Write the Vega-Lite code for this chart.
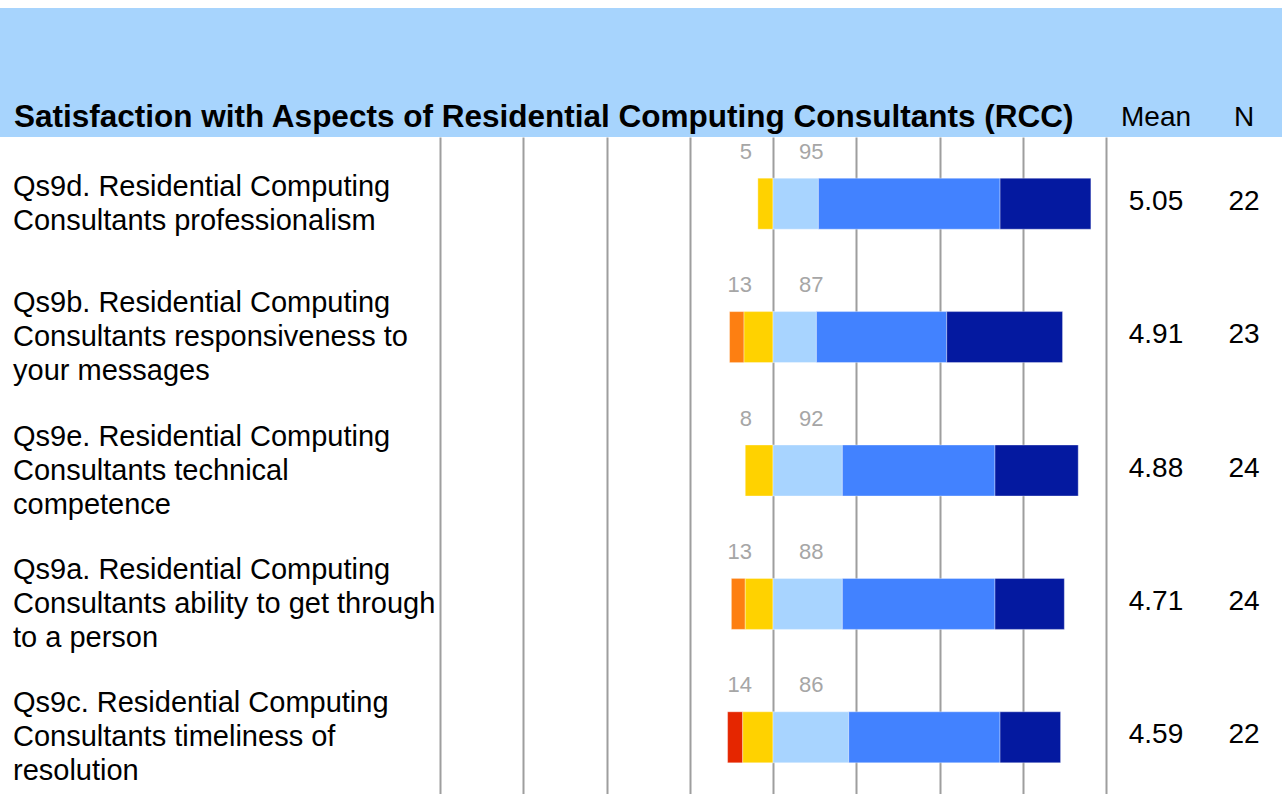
{
  "$schema": "https://vega.github.io/schema/vega-lite/v6.json",
  "background": "white",
  "padding": {"top": 8, "left": 0, "right": 0, "bottom": 0},
  "config": {
    "font": "Liberation Sans",
    "view": {"stroke": null},
    "title": {"color": "black", "fontWeight": "normal", "fontSize": 28, "baseline": "alphabetic", "offset": 5, "frame": "group"},
    "axisX": {"grid": false, "labels": false, "ticks": true, "tickSize": -657, "tickColor": "#9e9e9e", "tickWidth": 2, "domain": false, "zindex": 0}
  },
  "datasets": {
    "questions": [
      {"q": "Qs9d", "label": ["Qs9d. Residential Computing", "Consultants professionalism"], "mean": 5.05, "n": 22, "neg": 5, "pos": 95},
      {"q": "Qs9b", "label": ["Qs9b. Residential Computing", "Consultants responsiveness to", "your messages"], "mean": 4.91, "n": 23, "neg": 13, "pos": 87},
      {"q": "Qs9e", "label": ["Qs9e. Residential Computing", "Consultants technical", "competence"], "mean": 4.88, "n": 24, "neg": 8, "pos": 92},
      {"q": "Qs9a", "label": ["Qs9a. Residential Computing", "Consultants ability to get through", "to a person"], "mean": 4.71, "n": 24, "neg": 13, "pos": 88},
      {"q": "Qs9c", "label": ["Qs9c. Residential Computing", "Consultants timeliness of", "resolution"], "mean": 4.59, "n": 22, "neg": 14, "pos": 86}
    ],
    "segments": [
      {"q": "Qs9d", "lvl": 3, "level": "Somewhat dissatisfied", "pct": -4.55},
      {"q": "Qs9d", "lvl": 4, "level": "Somewhat satisfied", "pct": 13.64},
      {"q": "Qs9d", "lvl": 5, "level": "Satisfied", "pct": 54.55},
      {"q": "Qs9d", "lvl": 6, "level": "Very satisfied", "pct": 27.27},
      {"q": "Qs9b", "lvl": 2, "level": "Dissatisfied", "pct": -4.35},
      {"q": "Qs9b", "lvl": 3, "level": "Somewhat dissatisfied", "pct": -8.7},
      {"q": "Qs9b", "lvl": 4, "level": "Somewhat satisfied", "pct": 13.04},
      {"q": "Qs9b", "lvl": 5, "level": "Satisfied", "pct": 39.13},
      {"q": "Qs9b", "lvl": 6, "level": "Very satisfied", "pct": 34.78},
      {"q": "Qs9e", "lvl": 3, "level": "Somewhat dissatisfied", "pct": -8.33},
      {"q": "Qs9e", "lvl": 4, "level": "Somewhat satisfied", "pct": 20.83},
      {"q": "Qs9e", "lvl": 5, "level": "Satisfied", "pct": 45.83},
      {"q": "Qs9e", "lvl": 6, "level": "Very satisfied", "pct": 25.0},
      {"q": "Qs9a", "lvl": 2, "level": "Dissatisfied", "pct": -4.17},
      {"q": "Qs9a", "lvl": 3, "level": "Somewhat dissatisfied", "pct": -8.33},
      {"q": "Qs9a", "lvl": 4, "level": "Somewhat satisfied", "pct": 20.83},
      {"q": "Qs9a", "lvl": 5, "level": "Satisfied", "pct": 45.83},
      {"q": "Qs9a", "lvl": 6, "level": "Very satisfied", "pct": 20.83},
      {"q": "Qs9c", "lvl": 1, "level": "Very dissatisfied", "pct": -4.55},
      {"q": "Qs9c", "lvl": 3, "level": "Somewhat dissatisfied", "pct": -9.09},
      {"q": "Qs9c", "lvl": 4, "level": "Somewhat satisfied", "pct": 22.73},
      {"q": "Qs9c", "lvl": 5, "level": "Satisfied", "pct": 45.45},
      {"q": "Qs9c", "lvl": 6, "level": "Very satisfied", "pct": 18.18}
    ]
  },
  "spacing": 0,
  "bounds": "flush",
  "vconcat": [
    {
      "width": 1282,
      "height": 129,
      "view": {"fill": "#a7d4fd", "stroke": null},
      "data": {"values": []},
      "mark": "text"
    },
    {
      "spacing": 0,
      "bounds": "flush",
      "hconcat": [
        {
          "width": 440,
          "height": 657,
          "data": {"name": "questions"},
          "title": {"text": "Satisfaction with Aspects of Residential Computing Consultants (RCC)", "anchor": "start", "dx": 14, "fontSize": 31.5, "fontWeight": "bold", "limit": 1250, "offset": 4},
          "mark": {"type": "text", "align": "left", "baseline": "middle", "fontSize": 29, "lineHeight": 34, "dx": 13, "dy": {"expr": "-17 * (length(datum.label) - 1)"}, "color": "black"},
          "encoding": {
            "y": {"field": "q", "type": "nominal", "sort": ["Qs9d", "Qs9b", "Qs9e", "Qs9a", "Qs9c"], "axis": null, "scale": {"paddingInner": 0, "paddingOuter": 0, "range": [0, 667]}},
            "x": {"datum": 0, "type": "quantitative", "scale": {"domain": [0, 1]}, "axis": null},
            "text": {"field": "label", "type": "nominal"}
          }
        },
        {
          "width": 666,
          "height": 657,
          "encoding": {
            "y": {"field": "q", "type": "nominal", "sort": ["Qs9d", "Qs9b", "Qs9e", "Qs9a", "Qs9c"], "axis": null, "scale": {"paddingInner": 0, "paddingOuter": 0, "range": [0, 667]}}
          },
          "layer": [
            {
              "data": {"name": "segments"},
              "transform": [{"filter": "datum.pct < 0"}],
              "mark": {"type": "bar", "size": 51, "stroke": "white", "strokeWidth": 1, "strokeOpacity": 0.35},
              "encoding": {
                "x": {"field": "pct", "type": "quantitative", "stack": "zero", "title": null, "scale": {"domain": [-100, 100], "nice": false}, "axis": {"values": [-100, -75, -50, -25, 0, 25, 50, 75, 100], "title": null}},
                "color": {"field": "level", "type": "nominal", "legend": null, "scale": {"domain": ["Very dissatisfied", "Dissatisfied", "Somewhat dissatisfied", "Somewhat satisfied", "Satisfied", "Very satisfied"], "range": ["#e52600", "#fd7f12", "#ffd200", "#a8d4ff", "#4282ff", "#0419a0"]}},
                "order": {"field": "lvl", "type": "quantitative", "sort": "descending"}
              }
            },
            {
              "data": {"name": "segments"},
              "transform": [{"filter": "datum.pct > 0"}],
              "mark": {"type": "bar", "size": 51, "stroke": "white", "strokeWidth": 1, "strokeOpacity": 0.35},
              "encoding": {
                "x": {"field": "pct", "type": "quantitative", "stack": "zero", "title": null, "axis": {"values": [-100, -75, -50, -25, 0, 25, 50, 75, 100], "title": null}},
                "color": {"field": "level", "type": "nominal", "legend": null},
                "order": {"field": "lvl", "type": "quantitative", "sort": "ascending"}
              }
            },
            {
              "data": {"name": "questions"},
              "mark": {"type": "text", "align": "right", "baseline": "alphabetic", "dy": -45, "dx": -21, "fontSize": 22, "color": "#a6a6a6"},
              "encoding": {
                "x": {"datum": 0, "type": "quantitative", "axis": {"values": [-100, -75, -50, -25, 0, 25, 50, 75, 100], "title": null}},
                "text": {"field": "neg", "type": "quantitative"}
              }
            },
            {
              "data": {"name": "questions"},
              "mark": {"type": "text", "align": "left", "baseline": "alphabetic", "dy": -45, "dx": 26, "fontSize": 22, "color": "#a6a6a6"},
              "encoding": {
                "x": {"datum": 0, "type": "quantitative", "axis": {"values": [-100, -75, -50, -25, 0, 25, 50, 75, 100], "title": null}},
                "text": {"field": "pos", "type": "quantitative"}
              }
            }
          ]
        },
        {
          "width": 100,
          "height": 657,
          "data": {"name": "questions"},
          "title": {"text": "Mean", "anchor": "middle"},
          "mark": {"type": "text", "fontSize": 28, "baseline": "middle", "color": "black", "dy": -2},
          "encoding": {
            "y": {"field": "q", "type": "nominal", "sort": ["Qs9d", "Qs9b", "Qs9e", "Qs9a", "Qs9c"], "axis": null, "scale": {"paddingInner": 0, "paddingOuter": 0, "range": [0, 667]}},
            "text": {"field": "mean", "type": "quantitative", "format": ".2f"}
          }
        },
        {
          "width": 76,
          "height": 657,
          "data": {"name": "questions"},
          "title": {"text": "N", "anchor": "middle"},
          "mark": {"type": "text", "fontSize": 28, "baseline": "middle", "color": "black", "dy": -2},
          "encoding": {
            "y": {"field": "q", "type": "nominal", "sort": ["Qs9d", "Qs9b", "Qs9e", "Qs9a", "Qs9c"], "axis": null, "scale": {"paddingInner": 0, "paddingOuter": 0, "range": [0, 667]}},
            "text": {"field": "n", "type": "quantitative"}
          }
        }
      ]
    }
  ]
}
